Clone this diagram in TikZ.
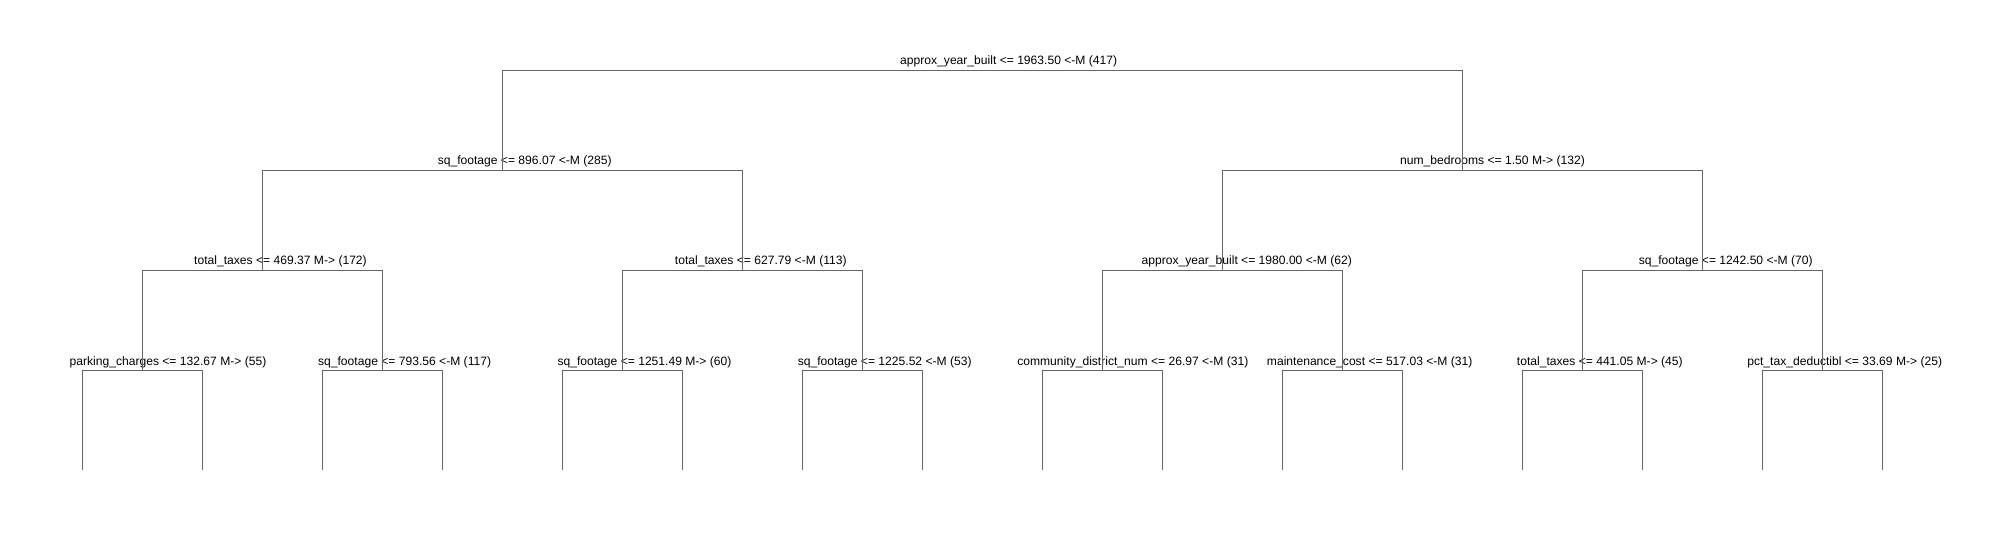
\documentclass[tikz,border=0pt]{standalone}
\usepackage{fontspec}
\setmainfont{Liberation Sans}
\usepackage{xcolor}
\definecolor{edgegray}{RGB}{102,102,102}

\begin{document}
\begin{tikzpicture} [x=1pt, y=-1pt,
  branch/.style={draw=edgegray, line width=1pt},
  split/.style={anchor=base, inner sep=0pt, text=black, font=\fontsize{12.1}{14}\selectfont} ]
  \useasboundingbox (0,0) rectangle (2008,540);
  % branch points
  \coordinate (r)   at (982.5,70.5);
  \coordinate (a)   at (502.5,170.5);
  \coordinate (b)   at (1462.5,170.5);
  \coordinate (aa)  at (262.5,270.5);
  \coordinate (ab)  at (742.5,270.5);
  \coordinate (ba)  at (1222.5,270.5);
  \coordinate (bb)  at (1702.5,270.5);
  \coordinate (aaa) at (142.5,370.5);
  \coordinate (aab) at (382.5,370.5);
  \coordinate (aba) at (622.5,370.5);
  \coordinate (abb) at (862.5,370.5);
  \coordinate (baa) at (1102.5,370.5);
  \coordinate (bab) at (1342.5,370.5);
  \coordinate (bba) at (1582.5,370.5);
  \coordinate (bbb) at (1822.5,370.5);
  \foreach \i in {0,...,15}
    \coordinate (l\i) at (82.5+120*\i,470);
  % tests
  \node[split] (t-r)   at (1008.7,65) {approx\_year\_built <= 1963.50 <-M (417)};
  \node[split] (t-a)   at (524.7,165) {sq\_footage <= 896.07 <-M (285)};
  \node[split] (t-b)   at (1492.5,165) {num\_bedrooms <= 1.50 M-> (132)};
  \node[split] (t-aa)  at (280.5,265) {total\_taxes <= 469.37 M-> (172)};
  \node[split] (t-ab)  at (760.8,265) {total\_taxes <= 627.79 <-M (113)};
  \node[split] (t-ba)  at (1246.8,265) {approx\_year\_built <= 1980.00 <-M (62)};
  \node[split] (t-bb)  at (1725.7,265) {sq\_footage <= 1242.50 <-M (70)};
  \node[split] (t-aaa) at (168,365) {parking\_charges <= 132.67 M-> (55)};
  \node[split] (t-aab) at (404.6,365) {sq\_footage <= 793.56 <-M (117)};
  \node[split] (t-aba) at (644.5,365) {sq\_footage <= 1251.49 M-> (60)};
  \node[split] (t-abb) at (884.7,365) {sq\_footage <= 1225.52 <-M (53)};
  \node[split] (t-baa) at (1132.8,365) {community\_district\_num <= 26.97 <-M (31)};
  \node[split] (t-bab) at (1369.7,365) {maintenance\_cost <= 517.03 <-M (31)};
  \node[split] (t-bba) at (1599.8,365) {total\_taxes <= 441.05 M-> (45)};
  \node[split] (t-bbb) at (1844.7,365) {pct\_tax\_deductibl <= 33.69 M-> (25)};
  % edges
  \path[branch]
  (a) |- (r) -| (b)
  (aa) |- (a) -| (ab)
  (ba) |- (b) -| (bb)
  (aaa) |- (aa) -| (aab)
  (aba) |- (ab) -| (abb)
  (baa) |- (ba) -| (bab)
  (bba) |- (bb) -| (bbb)
  (l0) |- (aaa) -| (l1)
  (l2) |- (aab) -| (l3)
  (l4) |- (aba) -| (l5)
  (l6) |- (abb) -| (l7)
  (l8) |- (baa) -| (l9)
  (l10) |- (bab) -| (l11)
  (l12) |- (bba) -| (l13)
  (l14) |- (bbb) -| (l15)
  ;
\end{tikzpicture}
\end{document}
